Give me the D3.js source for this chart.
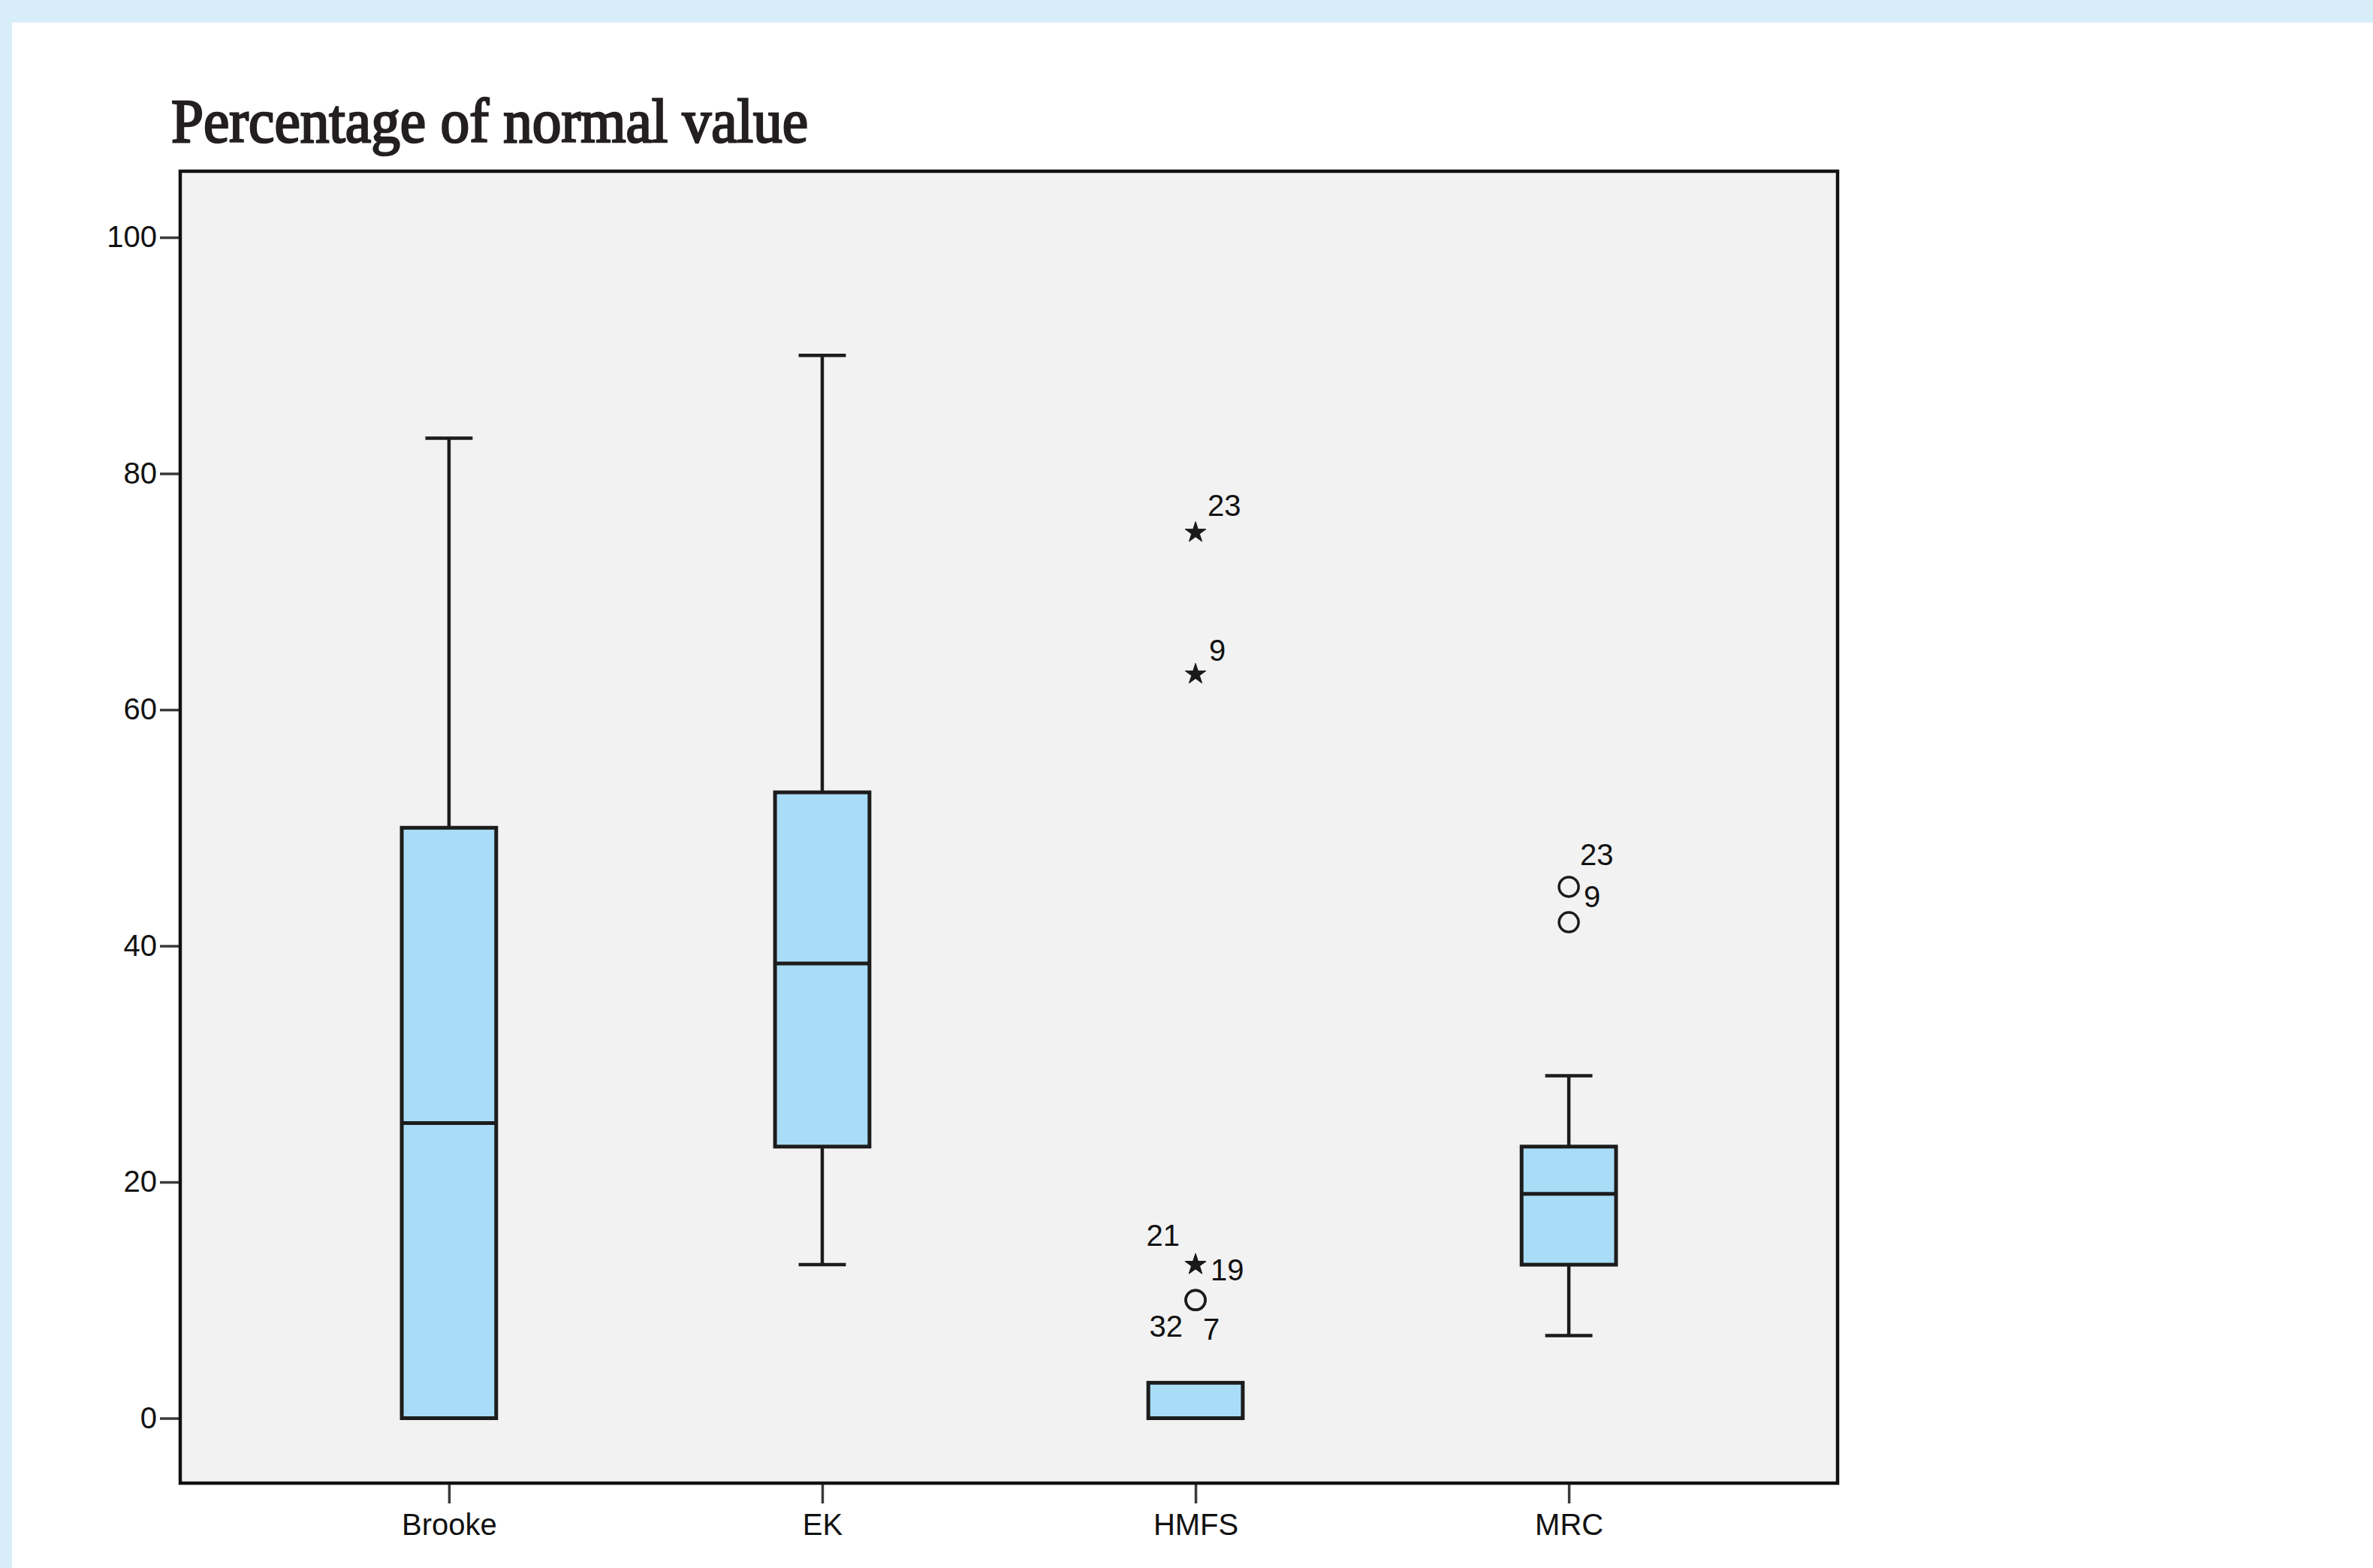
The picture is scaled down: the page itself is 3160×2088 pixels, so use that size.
<!DOCTYPE html>
<html>
<head>
<meta charset="utf-8">
<script src="https://cdn.jsdelivr.net/npm/d3@7"></script>
<style>
  body { margin: 0; background: #fff; }
  svg { display: block; }
</style>
</head>
<body>
<svg id="chart"></svg>
<script>
// Data
const categories = ["Brooke", "EK", "HMFS", "MRC"];
const whiskerLow  = [0, 13, 0, 7];
const q1          = [0, 23, 0, 13];
const median      = [25, 38.5, 0, 19];
const q3          = [50, 53, 3, 23];
const whiskerHigh = [83, 90, 3, 29];

// Outliers: group, value, marker kind, case number
const outlierGroup = ["HMFS", "HMFS", "HMFS", "HMFS", "HMFS", "HMFS", "MRC", "MRC"];
const outlierValue = [75, 63, 13, 13, 10, 10, 45, 42];
const outlierKind  = ["extreme", "extreme", "extreme", "extreme", "outlier", "outlier", "outlier", "outlier"];
const outlierCase  = ["23", "9", "21", "19", "32", "7", "23", "9"];

const yTicks = [0, 20, 40, 60, 80, 100];
const title = "Percentage of normal value";

// Canvas
const W = 3160, H = 2088;
const frame = {left: 240, right: 2447, top: 228, bottom: 1975};

const svg = d3.select("#chart")
    .attr("width", W)
    .attr("height", H);

// Page background: light blue band top/left, white panel
svg.append("rect").attr("width", W).attr("height", H).attr("fill", "#d7eef9");
svg.append("rect").attr("x", 16).attr("y", 30).attr("width", W - 16).attr("height", H - 30).attr("fill", "#ffffff");

// Title
svg.append("text")
    .attr("x", 228)
    .attr("y", 189)
    .attr("textLength", 848)
    .attr("lengthAdjust", "spacingAndGlyphs")
    .style("font-family", "'Liberation Serif', 'Times New Roman', serif")
    .style("font-size", "82px")
    .attr("fill", "#231f20")
    .attr("stroke", "#231f20")
    .attr("stroke-width", 2.6)
    .text(title);

// Scales
const xScale = d3.scalePoint()
    .domain(categories)
    .range([frame.left, frame.right])
    .padding(0.72);
const yScale = d3.scaleLinear()
    .domain([-5.5, 105.6])
    .range([frame.bottom, frame.top]);

// Plot area
svg.append("rect")
    .attr("x", frame.left)
    .attr("y", frame.top)
    .attr("width", frame.right - frame.left)
    .attr("height", frame.bottom - frame.top)
    .attr("fill", "#f2f2f2");

// Axes
const axisFont = "'Liberation Sans', Arial, sans-serif";
const yAxis = svg.append("g")
    .attr("transform", "translate(" + frame.left + ",0)")
    .call(d3.axisLeft(yScale).tickValues(yTicks).tickSize(27).tickPadding(4));
const xAxis = svg.append("g")
    .attr("transform", "translate(0," + frame.bottom + ")")
    .call(d3.axisBottom(xScale).tickSize(27).tickPadding(14));

[yAxis, xAxis].forEach(function(a) {
    a.select(".domain").remove();
    a.selectAll(".tick line").attr("stroke", "#3a3a3a").attr("stroke-width", 3.5);
    a.selectAll(".tick text")
        .style("font-family", axisFont)
        .style("font-size", "40px")
        .attr("fill", "#111");
});

// Boxes
const boxW = xScale.step() * 0.253;
const capW = boxW / 2;
const stroke = "#1c1c1c";

const boxes = svg.append("g").selectAll("g")
    .data(categories)
    .enter()
    .append("g");

boxes.each(function(c, i) {
    const g = d3.select(this);
    const cx = xScale(c);
    // upper whisker
    if (whiskerHigh[i] > q3[i]) {
        g.append("line")
            .attr("x1", cx).attr("x2", cx)
            .attr("y1", yScale(q3[i])).attr("y2", yScale(whiskerHigh[i]))
            .attr("stroke", stroke).attr("stroke-width", 4.5);
        g.append("line")
            .attr("x1", cx - capW / 2).attr("x2", cx + capW / 2)
            .attr("y1", yScale(whiskerHigh[i])).attr("y2", yScale(whiskerHigh[i]))
            .attr("stroke", stroke).attr("stroke-width", 4.5);
    }
    // lower whisker
    if (whiskerLow[i] < q1[i]) {
        g.append("line")
            .attr("x1", cx).attr("x2", cx)
            .attr("y1", yScale(q1[i])).attr("y2", yScale(whiskerLow[i]))
            .attr("stroke", stroke).attr("stroke-width", 4.5);
        g.append("line")
            .attr("x1", cx - capW / 2).attr("x2", cx + capW / 2)
            .attr("y1", yScale(whiskerLow[i])).attr("y2", yScale(whiskerLow[i]))
            .attr("stroke", stroke).attr("stroke-width", 4.5);
    }
    g.append("rect")
        .attr("x", cx - boxW / 2)
        .attr("y", yScale(q3[i]))
        .attr("width", boxW)
        .attr("height", yScale(q1[i]) - yScale(q3[i]))
        .attr("fill", "#a9dcf6")
        .attr("stroke", stroke)
        .attr("stroke-width", 5);
    if (median[i] > q1[i]) {
        g.append("line")
            .attr("x1", cx - boxW / 2).attr("x2", cx + boxW / 2)
            .attr("y1", yScale(median[i])).attr("y2", yScale(median[i]))
            .attr("stroke", stroke).attr("stroke-width", 5);
    }
});

// Frame on top
svg.append("rect")
    .attr("x", frame.left)
    .attr("y", frame.top)
    .attr("width", frame.right - frame.left)
    .attr("height", frame.bottom - frame.top)
    .attr("fill", "none")
    .attr("stroke", "#111")
    .attr("stroke-width", 4.5);

// Outlier markers
const outliers = outlierValue.map(function(v, i) {
    return {group: outlierGroup[i], value: v, kind: outlierKind[i], label: outlierCase[i]};
});

const marks = svg.append("g");
marks.selectAll("path.star")
    .data(outliers.filter(function(d) { return d.kind === "extreme"; }))
    .enter()
    .append("path")
    .attr("class", "star")
    .attr("transform", function(d) { return "translate(" + xScale(d.group) + "," + yScale(d.value) + ")"; })
    .attr("d", d3.symbol().type(d3.symbolStar).size(240))
    .attr("fill", "#1a1a1a")
    .attr("stroke", "#1a1a1a")
    .attr("stroke-width", 1);

marks.selectAll("circle")
    .data(outliers.filter(function(d) { return d.kind === "outlier"; }))
    .enter()
    .append("circle")
    .attr("cx", function(d) { return xScale(d.group); })
    .attr("cy", function(d) { return yScale(d.value); })
    .attr("r", 13)
    .attr("fill", "none")
    .attr("stroke", "#1c1c1c")
    .attr("stroke-width", 3.5);

// Case labels, placed the way SPSS spread them around the marker
const labelSpot = [
    {dx: 16, dy: -37, anchor: "start"},
    {dx: 18, dy: -32, anchor: "start"},
    {dx: -21, dy: -39, anchor: "end"},
    {dx: 20, dy: 7, anchor: "start"},
    {dx: -17, dy: 34, anchor: "end"},
    {dx: 10, dy: 38, anchor: "start"},
    {dx: 15, dy: -43, anchor: "start"},
    {dx: 20, dy: -34, anchor: "start"}
];

marks.selectAll("text")
    .data(outliers)
    .enter()
    .append("text")
    .attr("x", function(d, i) { return xScale(d.group) + labelSpot[i].dx; })
    .attr("y", function(d, i) { return yScale(d.value) + labelSpot[i].dy; })
    .attr("dy", "0.36em")
    .attr("text-anchor", function(d, i) { return labelSpot[i].anchor; })
    .style("font-family", axisFont)
    .style("font-size", "40px")
    .attr("fill", "#111")
    .text(function(d) { return d.label; });
</script>
</body>
</html>
